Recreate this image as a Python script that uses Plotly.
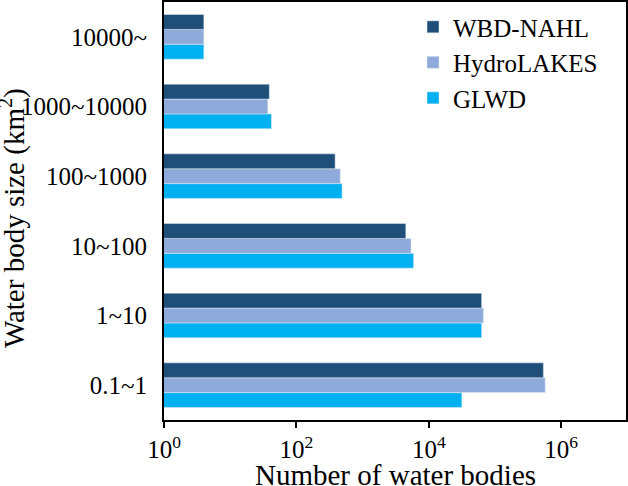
import plotly.graph_objects as go

categories = ["0.1~1", "1~10", "10~100", "100~1000", "1000~10000", "10000~"]
wbd_nahl = [540000, 63000, 4500, 385, 39, 4]
hydrolakes = [575000, 67000, 5400, 460, 37, 4]
glwd = [31600, 63000, 5900, 490, 42, 4]
tick_vals = [1, 100, 10000, 1000000]
tick_text = ["10<sup>0</sup>", "10<sup>2</sup>", "10<sup>4</sup>", "10<sup>6</sup>"]

font = "Liberation Serif, Times New Roman, serif"
fig = go.Figure()
fig.add_trace(go.Bar(y=categories, x=glwd, name="GLWD", orientation="h", marker_color="#00b0f0"))
fig.add_trace(go.Bar(y=categories, x=hydrolakes, name="HydroLAKES", orientation="h", marker_color="#8eaadb"))
fig.add_trace(go.Bar(y=categories, x=wbd_nahl, name="WBD-NAHL", orientation="h", marker_color="#1f4e79"))

fig.update_layout(
    width=628, height=486,
    margin=dict(l=164, r=2, t=2, b=66),
    barmode="group", bargap=0.36, bargroupgap=0,
    plot_bgcolor="white", paper_bgcolor="white",
    font=dict(family=font, size=25, color="black"),
    legend=dict(traceorder="reversed", x=0.539, y=0.995, xanchor="left", yanchor="top",
                font=dict(size=25), bgcolor="rgba(0,0,0,0)", itemwidth=30, tracegroupgap=0),
    showlegend=True,
    annotations=[
        dict(text="Water body size (km<sup>2</sup>)", textangle=-90,
             xref="paper", yref="paper", x=0, y=0.483, xshift=-152,
             xanchor="center", yanchor="middle", showarrow=False,
             font=dict(size=29)),
        dict(text="Number of water bodies",
             xref="paper", yref="paper", x=0.5, y=0, yshift=-55,
             xanchor="center", yanchor="middle", showarrow=False,
             font=dict(size=29)),
    ],
)
fig.update_xaxes(type="log", range=[0, 6.98], tickvals=tick_vals, ticktext=tick_text,
                 ticks="outside", ticklen=6, tickwidth=1.5, tickcolor="black",
                 showline=True, linecolor="black", linewidth=2, mirror=True,
                 showgrid=False, zeroline=False, automargin=False,
                 tickfont=dict(size=25))
fig.update_yaxes(showline=True, linecolor="black", linewidth=2, mirror=True,
                 showgrid=False, ticks="", tickfont=dict(size=25), automargin=False,
                 ticklabelstandoff=10,
                 range=[-0.5, 5.5])
fig.write_html("out.html", config={"displayModeBar": False},
               post_script="document.body.style.margin='0';document.body.style.padding='0';")
